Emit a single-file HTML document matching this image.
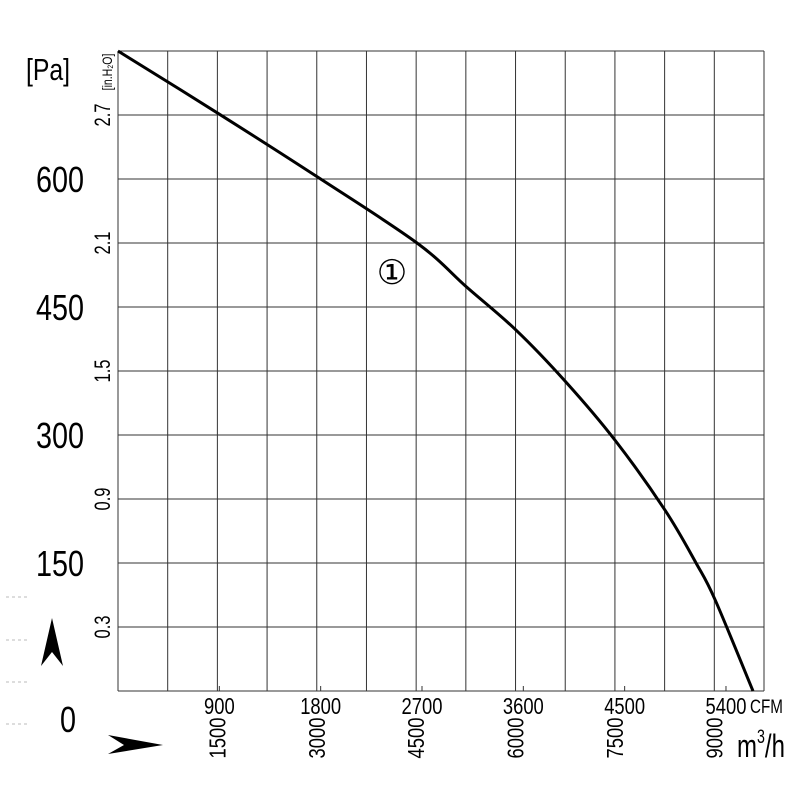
<!DOCTYPE html>
<html><head><meta charset="utf-8"><style>
html,body{margin:0;padding:0;background:#fff;}
svg{display:block;}
text{font-family:"Liberation Sans",sans-serif;fill:#000;}
</style></head><body>
<svg id="chart" width="800" height="800" viewBox="0 0 800 800">
<g id="grid"></g>
<g id="labels"></g>
<path id="curve" fill="none" stroke="#000" stroke-width="3"/>
<text x="392" y="284" font-size="34" text-anchor="middle" font-family="DejaVu Serif, serif">①</text>
<text transform="translate(48,80) scale(0.8,1)" font-size="31" text-anchor="middle">[Pa]</text>
<text transform="translate(112,72) rotate(-90) scale(0.75,1)" font-size="14" text-anchor="middle">[in.H₂O]</text>
<text transform="translate(750,713) scale(0.8,1)" font-size="19">CFM</text>
<text transform="translate(737,757) scale(0.75,1)" font-size="32">m<tspan dy="-14" font-size="19">3</tspan><tspan dy="14">/h</tspan></text>
<g stroke="#bbb" stroke-width="1" stroke-dasharray="3,3">
<line x1="6" y1="597" x2="28" y2="597"/><line x1="6" y1="640" x2="28" y2="640"/><line x1="6" y1="682" x2="28" y2="682"/><line x1="6" y1="724" x2="28" y2="724"/></g>
<path d="M52,618 L63,666 L52,652 L41,666 Z" fill="#000"/>
<path d="M163,745 L108,735 L124,745 L108,754 Z" fill="#000"/>
</svg>
<script>
const cfm=[0,888,1776,2656,3100,3535,3979,4414,4858,5134,5303,5640];
const pa=[750,677,602,525,473,423,362,294,212,150,107,0];
const paTicks=[0,150,300,450,600];
const inTicks=[0.3,0.9,1.5,2.1,2.7];
const cfmTicks=[900,1800,2700,3600,4500,5400];
const m3hTicks=[1500,3000,4500,6000,7500,9000];
const X0=118,X1=764,Y0=691,Y1=51;
const xs=v=>X0+v*(101.33/900);
const ys=v=>Y0-v*(128/150);
const yIn=v=>Y0-v*(128/0.6);
const xM=v=>xs(v/1.699);
const NS='http://www.w3.org/2000/svg';
const grid=document.getElementById('grid'),lab=document.getElementById('labels');
function mk(tag,attrs,parent,txt){const e=document.createElementNS(NS,tag);for(const k in attrs)e.setAttribute(k,attrs[k]);if(txt!==undefined)e.textContent=txt;parent.appendChild(e);return e;}
for(let i=0;i<=13;i++){const x=X0+(X1-X0)*i/13;
const l=mk('line',{x1:x,y1:Y1,x2:x,y2:Y0,stroke:'#333','stroke-width':1},grid);

}
for(let i=0;i<=10;i++){const y=Y1+(Y0-Y1)*i/10;
const l=mk('line',{x1:X0,y1:y,x2:X1,y2:y,stroke:'#333','stroke-width':1},grid);

}
paTicks.forEach(v=>{const t=mk('text',{transform:`translate(${v===0?68:60},${ys(v)+13+(v===0?28:0)}) scale(0.8,1)`,'font-size':36,'text-anchor':'middle'},lab,String(v));

});
inTicks.forEach(v=>{const t=mk('text',{transform:`translate(110,${yIn(v)}) rotate(-90) scale(0.75,1)`,'font-size':22,'text-anchor':'middle'},lab,v.toFixed(1));

});
cfmTicks.forEach(v=>{const x=xs(v);
const tk=mk('line',{x1:x,y1:Y0-5,x2:x,y2:Y0,stroke:'#333'},grid);


const t=mk('text',{transform:`translate(${x},714) scale(0.8,1)`,'font-size':23,'text-anchor':'middle'},lab,String(v));

});
m3hTicks.forEach(v=>{const t=mk('text',{transform:`translate(${xM(v)+8},738) rotate(-90) scale(0.8,1)`,'font-size':23,'text-anchor':'middle'},lab,String(v));

});
let d='';cfm.forEach((c,i)=>{const x=xs(c),y=ys(pa[i]);
if(i===0)d+=`M${x},${y}`;else{const px=xs(cfm[i-1]),py=ys(pa[i-1]);
const ppx=i>1?xs(cfm[i-2]):px,ppy=i>1?ys(pa[i-2]):py;
const nx=i<cfm.length-1?xs(cfm[i+1]):x,ny=i<cfm.length-1?ys(pa[i+1]):y;
d+=` C${px+(x-ppx)/6},${py+(y-ppy)/6} ${x-(nx-px)/6},${y-(ny-py)/6} ${x},${y}`;}});
document.getElementById('curve').setAttribute('d',d);
</script>
</body></html>
